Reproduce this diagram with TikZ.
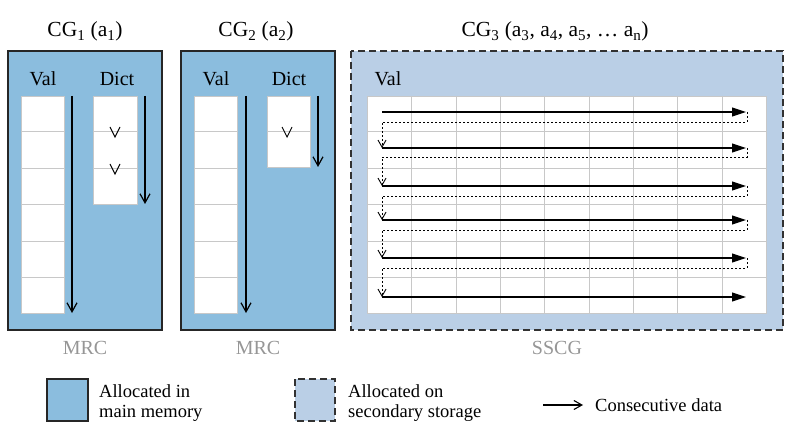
\documentclass[tikz,border=0pt]{standalone}
\usepackage{fontspec}
\setmainfont{Liberation Serif}
\usetikzlibrary{arrows.meta}

\definecolor{mainmem}{RGB}{139,189,222}
\definecolor{secstore}{RGB}{186,207,230}
\definecolor{cellline}{RGB}{200,200,200}
\definecolor{kindgray}{RGB}{150,150,150}
\definecolor{framegray}{RGB}{50,50,50}

\tikzset{
  mrcbox/.style={fill=mainmem,draw=black!85,line width=1.1pt},
  sscgbox/.style={fill=secstore,draw=framegray,line width=1.3pt,dash pattern=on 7pt off 4pt},
  cellbox/.style={fill=white,draw=cellline,line width=0.9pt},
  cellsep/.style={draw=cellline,line width=0.9pt},
  scanarrow/.style={line width=1.2pt,-{Straight Barb[length=9pt,width=10pt]}},
  runarrow/.style={line width=1.1pt,-{Triangle[length=14pt,width=9pt]}},
  wraparrow/.style={line width=0.9pt,dash pattern=on 2pt off 2pt,-{Straight Barb[length=7pt,width=8pt]}},
  chevronmark/.style={line width=0.9pt},
  cgtitle/.style={font=\fontsize{21.5}{25}\selectfont,anchor=base,inner sep=0pt},
  collabel/.style={font=\fontsize{20}{24}\selectfont,anchor=base,inner sep=0pt},
  kindname/.style={font=\fontsize{20}{24}\selectfont,text=kindgray,anchor=base,inner sep=0pt},
  legendtext/.style={font=\fontsize{18.5}{19.5}\selectfont,align=left,anchor=west,inner sep=0pt}
}

\begin{document}
\begin{tikzpicture}[x=1pt,y=-1pt]
\useasboundingbox (0,0) rectangle (805,430);

% column group 1
\draw[mrcbox] (8,51) rectangle (162,330);
\node[cgtitle] (cg1) at (85,37) {CG\textsubscript{1} (a\textsubscript{1})};
\node[collabel] (val1) at (43,86) {Val};
\node[collabel] (dict1) at (117,86) {Dict};
\draw[cellbox] (21,96) rectangle (64,313);
\draw[cellsep] (21,131) -- (64,131);
\draw[cellsep] (21,168) -- (64,168);
\draw[cellsep] (21,204) -- (64,204);
\draw[cellsep] (21,241) -- (64,241);
\draw[cellsep] (21,277) -- (64,277);
\draw[cellbox] (93,96) rectangle (137,204);
\draw[cellsep] (93,131) -- (137,131);
\draw[cellsep] (93,168) -- (137,168);
\draw[chevronmark] (110,127) -- (115,137) -- (120,127);
\draw[chevronmark] (110,164) -- (115,174) -- (120,164);
\draw[scanarrow] (72,96) -- (72,313);
\draw[scanarrow] (145,96) -- (145,204);
\node[kindname] (mrc1) at (85,354) {MRC};

% column group 2
\draw[mrcbox] (181,51) rectangle (335,330);
\node[cgtitle] (cg2) at (256,37) {CG\textsubscript{2} (a\textsubscript{2})};
\node[collabel] (val2) at (216,86) {Val};
\node[collabel] (dict2) at (289,86) {Dict};
\draw[cellbox] (194,96) rectangle (237,313);
\draw[cellsep] (194,131) -- (237,131);
\draw[cellsep] (194,168) -- (237,168);
\draw[cellsep] (194,204) -- (237,204);
\draw[cellsep] (194,241) -- (237,241);
\draw[cellsep] (194,277) -- (237,277);
\draw[cellbox] (267,96) rectangle (310,167);
\draw[cellsep] (267,131) -- (310,131);
\draw[chevronmark] (282,127) -- (287,137) -- (292,127);
\draw[scanarrow] (246,96) -- (246,313);
\draw[scanarrow] (318,96) -- (318,167);
\node[kindname] (mrc2) at (258,354) {MRC};

% column group 3
\draw[sscgbox] (351,51) rectangle (783,330);
\node[cgtitle] (cg3) at (555,37) {CG\textsubscript{3} (a\textsubscript{3}, a\textsubscript{4}, a\textsubscript{5}, … a\textsubscript{n})};
\node[collabel] (val3) at (388,86) {Val};
\draw[cellbox] (367,96) rectangle (766,313);
\draw[cellsep] (411,96) -- (411,313);
\draw[cellsep] (456,96) -- (456,313);
\draw[cellsep] (500,96) -- (500,313);
\draw[cellsep] (544,96) -- (544,313);
\draw[cellsep] (589,96) -- (589,313);
\draw[cellsep] (633,96) -- (633,313);
\draw[cellsep] (677,96) -- (677,313);
\draw[cellsep] (722,96) -- (722,313);
\draw[cellsep] (367,131) -- (766,131);
\draw[cellsep] (367,168) -- (766,168);
\draw[cellsep] (367,204) -- (766,204);
\draw[cellsep] (367,241) -- (766,241);
\draw[cellsep] (367,277) -- (766,277);
\draw[runarrow] (382,112) -- (746,112);
\draw[runarrow] (382,148) -- (746,148);
\draw[runarrow] (382,186) -- (746,186);
\draw[runarrow] (382,220) -- (746,220);
\draw[runarrow] (382,258) -- (746,258);
\draw[runarrow] (382,297) -- (746,297);
\draw[wraparrow] (747,112) -- (747,122) -- (382,122) -- (382,148);
\draw[wraparrow] (747,148) -- (747,157) -- (382,157) -- (382,186);
\draw[wraparrow] (747,186) -- (747,196) -- (382,196) -- (382,220);
\draw[wraparrow] (747,220) -- (747,230) -- (382,230) -- (382,258);
\draw[wraparrow] (747,258) -- (747,268) -- (382,268) -- (382,297);
\node[kindname] (sscg) at (557,354) {SSCG};

% legend
\draw[mrcbox] (47,379) rectangle (88,421);
\node[legendtext] (mainleg) at (99,403) {Allocated in\\main memory};
\draw[sscgbox] (295,379) rectangle (335,421);
\node[legendtext] (secleg) at (348,403) {Allocated on\\secondary storage};
\coordinate (arrfrom) at (543,405);
\coordinate (arrto) at (583,405);
\draw[line width=1.1pt,-{Straight Barb[length=8pt,width=9pt]}] (arrfrom) -- (arrto);
\node[legendtext] (consleg) at (595,405) {Consecutive data};
\end{tikzpicture}
\end{document}
